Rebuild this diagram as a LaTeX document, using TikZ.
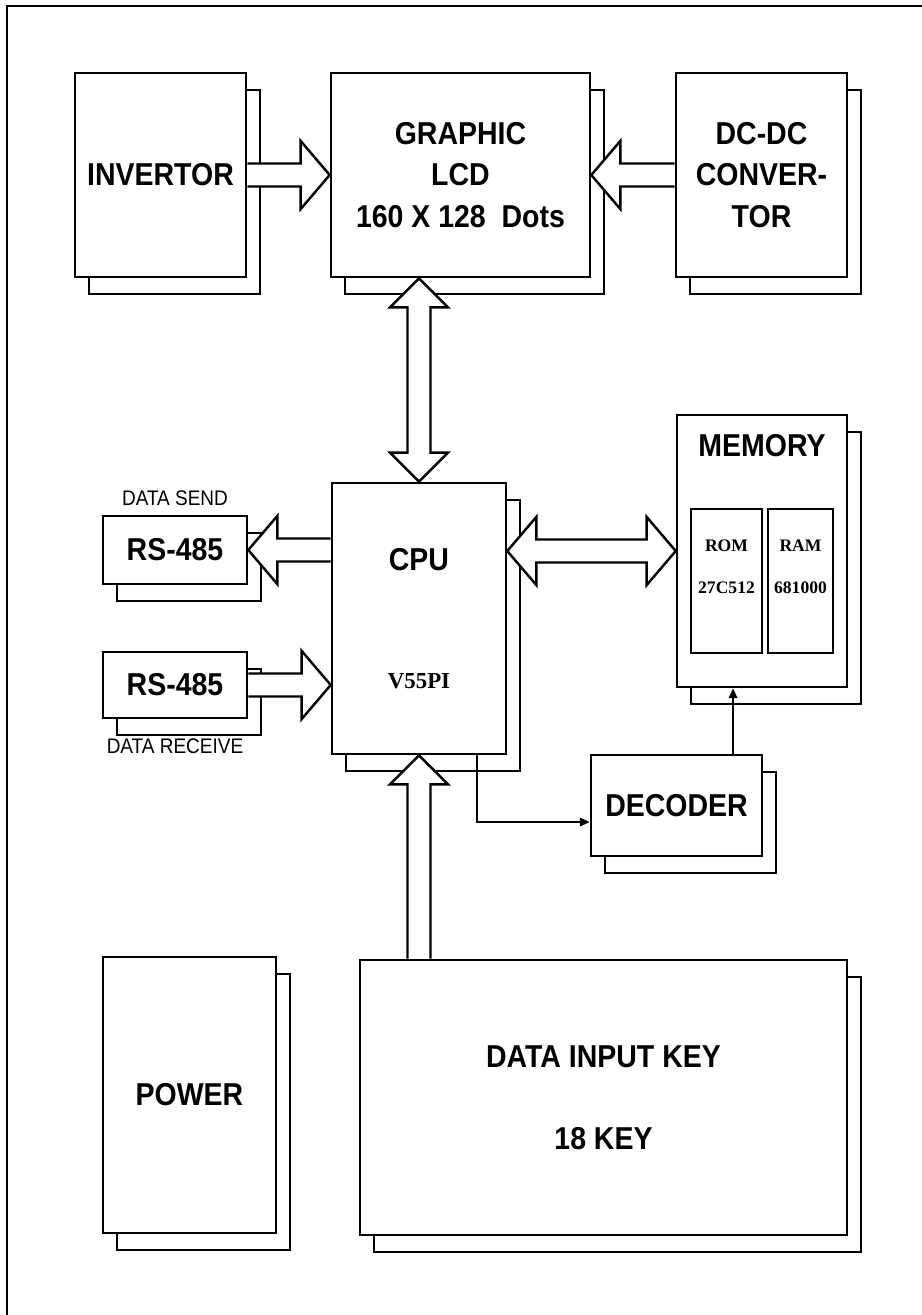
\documentclass[tikz,border=0pt]{standalone}
\usepackage{fontspec}
\setmainfont{Liberation Sans}[FakeStretch=0.9]
\newfontfamily\tmsfont{Liberation Serif}
\usetikzlibrary{arrows.meta,positioning,calc,shadows}

% hollow block arrow from #2 to #3, #1 = half width of the head
\newcommand{\fatarrow}[3][0.34cm]{%
  \draw[fat] let \p1=($(#3)-(#2)$), \n1={veclen(\x1,\y1)}, \n2={atan2(\y1,\x1)} in
    [shift={(#2)}, rotate=\n2]
    (0pt,-0.115cm) -- ({\n1*1pt-0.29cm},-0.115cm) -- ({\n1*1pt-0.29cm},-#1)
    -- ({\n1*1pt},0pt) -- ({\n1*1pt-0.29cm},#1) -- ({\n1*1pt-0.29cm},0.115cm) -- (0pt,0.115cm);}
% same, with a head at both ends
\newcommand{\fatdarrow}[3][0.34cm]{%
  \draw[fat] let \p1=($(#3)-(#2)$), \n1={veclen(\x1,\y1)}, \n2={atan2(\y1,\x1)} in
    [shift={(#2)}, rotate=\n2]
    (0pt,0pt) -- (0.29cm,#1) -- (0.29cm,0.115cm) -- ({\n1*1pt-0.29cm},0.115cm) -- ({\n1*1pt-0.29cm},#1)
    -- ({\n1*1pt},0pt) -- ({\n1*1pt-0.29cm},-#1) -- ({\n1*1pt-0.29cm},-0.115cm) -- (0.29cm,-0.115cm)
    -- (0.29cm,-#1) -- cycle;}

\begin{document}
\begin{tikzpicture}[x=0.01cm, y=-0.01cm,
  blk/.style={draw, fill=white, line width=0.7pt, font=\fontsize{9}{11.7}\selectfont\bfseries,
              align=center, inner sep=0pt, copy shadow={shadow xshift=0.14cm, shadow yshift=-0.17cm}},
  chip/.style={draw, line width=0.6pt, inner sep=0pt, minimum height=1.44cm},
  chiptext/.style={align=center, anchor=center, yshift=-0.59cm, font=\tmsfont\bfseries\fontsize{5}{12}\selectfont},
  fat/.style={draw, fill=white, line width=0.7pt},
  wire/.style={line width=0.6pt, -{Triangle[length=2.8pt, width=2.4pt]}},
  note/.style={font=\fontsize{6}{7}\selectfont}
]
  \useasboundingbox (0,0) rectangle (922,1315);
  \draw[line width=0.7pt] (7,1315) -- (7,6) -- (922,6);

  % Nodes
  \node[blk, minimum width=1.71cm, minimum height=2.04cm] (inv) at (160.5,175) {INVERTOR};
  \node[blk, minimum width=2.59cm, minimum height=2.04cm] (lcd) at (460.5,175) {GRAPHIC\\LCD\\160 X 128\ \ Dots};
  \node[blk, minimum width=1.71cm, minimum height=2.04cm] (dcdc) at (761.5,175) {DC-DC\\CONVER-\\TOR};
  \node[blk, minimum width=1.74cm, minimum height=2.71cm, font=\fontsize{9}{33.6}\selectfont\bfseries] (cpu) at (419,618.5)
    {CPU\\{\tmsfont\fontsize{6.5}{33.6}\selectfont V55PI}};
  \node[blk, minimum width=1.44cm, minimum height=0.68cm,
        label={[note, label distance=-1pt]above:DATA SEND}] (send) at (175,550) {RS-485};
  \node[blk, minimum width=1.44cm, minimum height=0.66cm,
        label={[note, label distance=2pt]below:DATA RECEIVE}] (recv) at (175,685) {RS-485};
  \node[blk, minimum width=1.70cm, minimum height=2.72cm,
        label={[font=\fontsize{9}{11}\selectfont\bfseries, anchor=center, yshift=-0.32cm]north:MEMORY}] (mem) at (762,551) {};
  \node[chip, minimum width=0.71cm, label={[chiptext]north:{ROM\\27C512}}] (rom) at (726.5,581) {};
  \node[chip, minimum width=0.65cm, label={[chiptext]north:{RAM\\681000}}] (ram) at (800.5,581) {};
  \node[blk, minimum width=1.71cm, minimum height=1.01cm] (dec) at (676.5,805.5) {DECODER};
  \node[blk, minimum width=1.73cm, minimum height=2.76cm] (pwr) at (189.5,1095) {POWER};
  \node[blk, minimum width=4.87cm, minimum height=2.75cm, font=\fontsize{9}{23.3}\selectfont\bfseries] (key) at (603.5,1097.5)
    {DATA INPUT KEY\\18 KEY};
  \coordinate (tap) at ([xshift=0.565cm]dec.north);

  % Arrows
  \fatarrow{inv.east}{lcd.west}
  \fatarrow{dcdc.west}{lcd.east}
  \fatdarrow[0.29cm]{cpu.north |- lcd.south}{cpu.north}
  \fatarrow{cpu.west |- send.east}{send.east}
  \fatarrow{recv.east}{recv.east -| cpu.west}
  \fatdarrow{cpu.east |- mem.west}{mem.west}
  \fatarrow[0.29cm]{cpu.south |- key.north}{cpu.south}
  \draw[wire] ([xshift=0.58cm]cpu.south) |- ([yshift=-0.165cm]dec.west);
  \draw[wire] (tap) -- (tap |- mem.south);
\end{tikzpicture}
\end{document}
